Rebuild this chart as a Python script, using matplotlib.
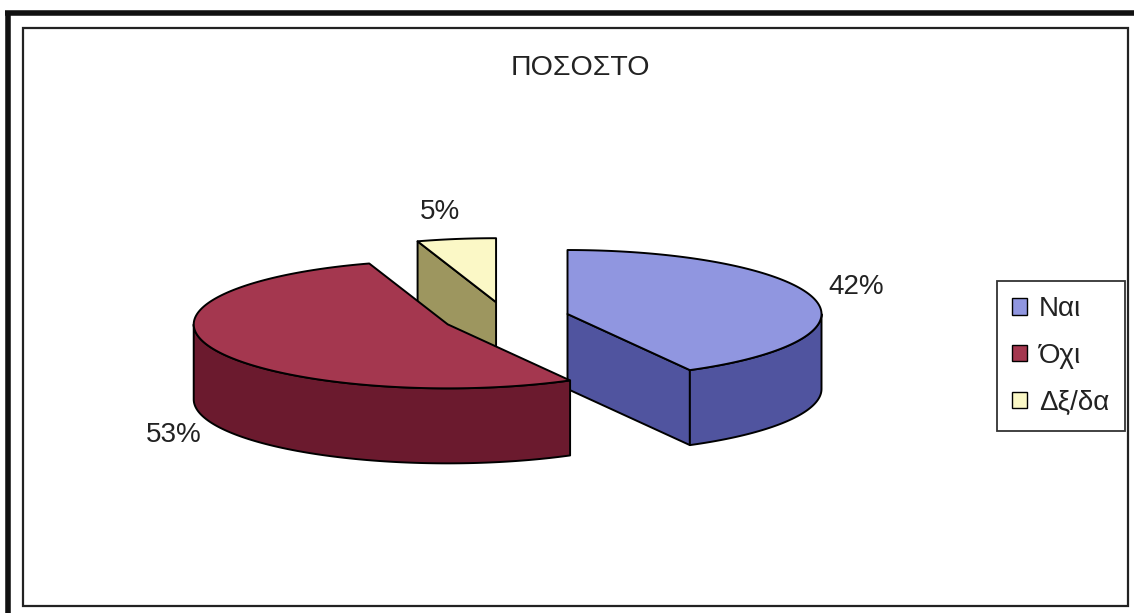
import numpy as np
import matplotlib.pyplot as plt
from matplotlib.patches import Polygon, Rectangle, Patch

labels = ['Ναι', 'Όχι', 'Δξ/δα']
shares = [42, 53, 5]
top_colors = ['#9096e0', '#a4374f', '#fbf8c6']
side_colors = ['#50549f', '#6b1a2e', '#9d965f']

W, H = 1134, 613
CX, CY = 506, 318      # centre of the pie's top face, px
RX, RY = 254, 64       # ellipse semi-axes (tilted view)
DEPTH = 75             # pie thickness
EXPLODE = 0.25

plt.rcParams['font.family'] = ['Liberation Sans', 'DejaVu Sans']

fig = plt.figure(figsize=(W / 100, H / 100), dpi=100)
ax = fig.add_axes([0, 0, 1, 1])
ax.set_xlim(0, W)
ax.set_ylim(H, 0)
ax.axis('off')


def pt(cx, cy, ang, r=1.0, dz=0):
    # angle measured clockwise from 12 o'clock
    a = np.radians(ang)
    return cx + r * RX * np.sin(a), cy - r * RY * np.cos(a) + dz


def arc(cx, cy, a0, a1, dz=0):
    t = np.linspace(a0, a1, max(int(abs(a1 - a0)), 2) + 1)
    x, y = pt(cx, cy, t, dz=dz)
    return np.column_stack([x, y])


fracs = np.array(shares) / sum(shares)
edges = np.concatenate([[0], np.cumsum(fracs) * 360])
slices = []
for i in range(len(shares)):
    a0, a1 = edges[i], edges[i + 1]
    mid = (a0 + a1) / 2
    cx, cy = pt(CX, CY, mid, EXPLODE)
    slices.append((cy, i, a0, a1, mid, cx))

# back to front
for cy, i, a0, a1, mid, cx in sorted(slices):
    kw = dict(ec='black', lw=1.4, joinstyle='round')
    # radial cut faces that turn toward the viewer
    for ang, normal in ((a0, a0 - 90), (a1, a1 + 90)):
        if np.cos(np.radians(normal)) < -1e-6:
            ex, ey = pt(cx, cy, ang)
            quad = [(cx, cy), (ex, ey), (ex, ey + DEPTH), (cx, cy + DEPTH)]
            ax.add_patch(Polygon(quad, fc=side_colors[i], **kw))
    # outer wall, front half only
    lo, hi = max(a0, 90), min(a1, 270)
    if hi > lo:
        top = arc(cx, cy, lo, hi)
        bot = arc(cx, cy, lo, hi, DEPTH)[::-1]
        ax.add_patch(Polygon(np.vstack([top, bot]), fc=side_colors[i], **kw))
    face = np.vstack([[cx, cy], arc(cx, cy, a0, a1)])
    ax.add_patch(Polygon(face, fc=top_colors[i], **kw))

# percentage labels outside each slice
for cy, i, a0, a1, mid, cx in slices:
    s, c = np.sin(np.radians(mid)), np.cos(np.radians(mid))
    ex, ey = pt(cx, cy, mid)
    if c < 0:
        ey += 0.9 * DEPTH
    txt = f'{shares[i]}%'
    L = 10 * len(txt) * abs(s) + 12 * abs(c) + 12
    dx = L * s - (12 if abs(s) < 0.3 else 0)
    ax.text(ex + dx, ey - L * c, txt, ha='center', va='center',
            fontsize=20, color='#222222')

ax.text(580, 68, 'ΠΟΣΟΣΤΟ', ha='center', va='center', fontsize=20.5,
        color='#222222')

handles = [Patch(fc=c, ec='black', lw=1) for c in top_colors]
leg = fig.legend(handles, labels, loc='upper left',
                 bbox_to_anchor=(997 / W, 1 - 281 / H), fontsize=20,
                 fancybox=False, frameon=True, handlelength=0.52,
                 handleheight=0.52, handletextpad=0.45, labelspacing=0.75,
                 borderpad=0.55, borderaxespad=0)
leg.get_frame().set_edgecolor('black')
leg.get_frame().set_linewidth(1.3)
for t in leg.get_texts():
    t.set_color('#222222')

# page frame
ax.plot([5, W], [13, 13], color='#111111', lw=4, solid_capstyle='butt')
ax.plot([8, 8], [11, H], color='#111111', lw=4, solid_capstyle='butt')
ax.add_patch(Rectangle((23, 28), 1128 - 23, 606 - 28, fill=False,
                       ec='#222222', lw=1.6))

fig.savefig('out.png', dpi=100)
